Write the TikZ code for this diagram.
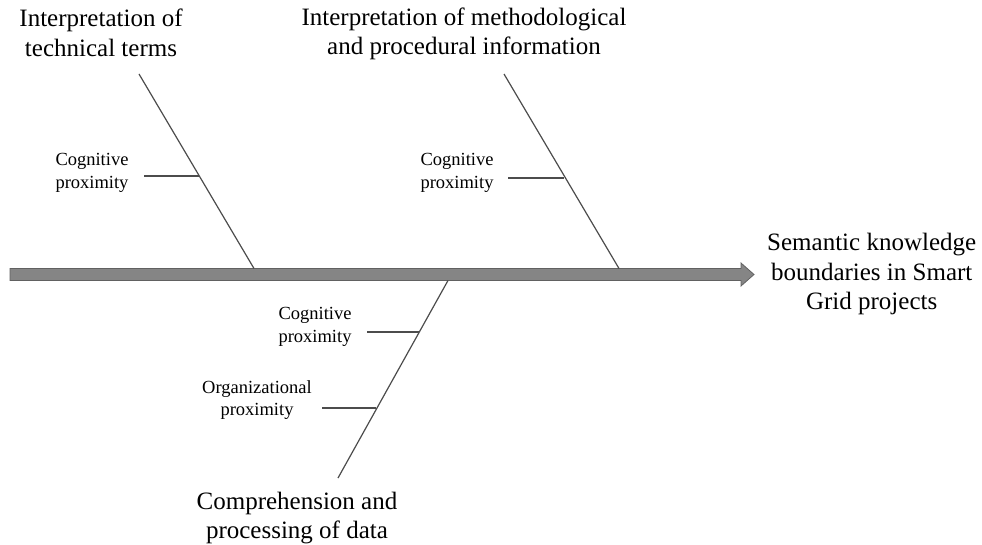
\documentclass[tikz,border=0pt]{standalone}
\usepackage{fontspec}
\setmainfont{Liberation Serif}
\begin{document}
\begin{tikzpicture}[x=1pt,y=-1pt,
  bone/.style={draw=black!70, line width=1.2pt},
  rib/.style={draw=black!70, line width=1.2pt},
  cause/.style={align=center, font=\fontsize{25}{29.5}\selectfont, inner sep=0pt},
  factor/.style={align=center, font=\fontsize{18.5}{22.5}\selectfont, inner sep=0pt},
  spine/.style={fill=black!48, draw=black!62, line width=0.8pt}]
\useasboundingbox (0,0) rectangle (982,545);

% main spine with arrow head
\path[spine] (10,268.5) -- (741,268.5) -- (741,263) -- (754,274.5) -- (741,286) -- (741,280.5) -- (10,280.5) -- cycle;
\coordinate (head) at (754,274.5);

% effect
\node[cause, anchor=west] (effect) at (767,274) {Semantic knowledge\\boundaries in Smart\\Grid projects};

% cause 1
\node[cause] (c1) at (101,33) {Interpretation of\\technical terms};
\coordinate (b1top) at (139,74);
\coordinate (b1bot) at (254,268.5);
\coordinate (r1a) at (199,176);
\coordinate (r1b) at (144,176);
\draw[bone] (b1top) -- (b1bot);
\draw[rib] (r1a) -- (r1b);
\node[factor] (f1) at (92,173) {Cognitive\\proximity};

% cause 2
\node[cause] (c2) at (464,34) {Interpretation of methodological\\and procedural information};
\coordinate (b2top) at (504,74);
\coordinate (b2bot) at (619,268.5);
\coordinate (r2a) at (564,178);
\coordinate (r2b) at (508,178);
\draw[bone] (b2top) -- (b2bot);
\draw[rib] (r2a) -- (r2b);
\node[factor] (f2) at (457,173) {Cognitive\\proximity};

% cause 3
\node[cause] (c3) at (297,518) {Comprehension and\\processing of data};
\coordinate (b3top) at (448,280.5);
\coordinate (b3bot) at (338,478);
\coordinate (r3a) at (419,332);
\coordinate (r3b) at (367,332);
\coordinate (r4a) at (376,408);
\coordinate (r4b) at (322,408);
\draw[bone] (b3top) -- (b3bot);
\draw[rib] (r3a) -- (r3b);
\draw[rib] (r4a) -- (r4b);
\node[factor] (f3) at (315,327) {Cognitive\\proximity};
\node[factor] (f4) at (257,400) {Organizational\\proximity};
\end{tikzpicture}
\end{document}
